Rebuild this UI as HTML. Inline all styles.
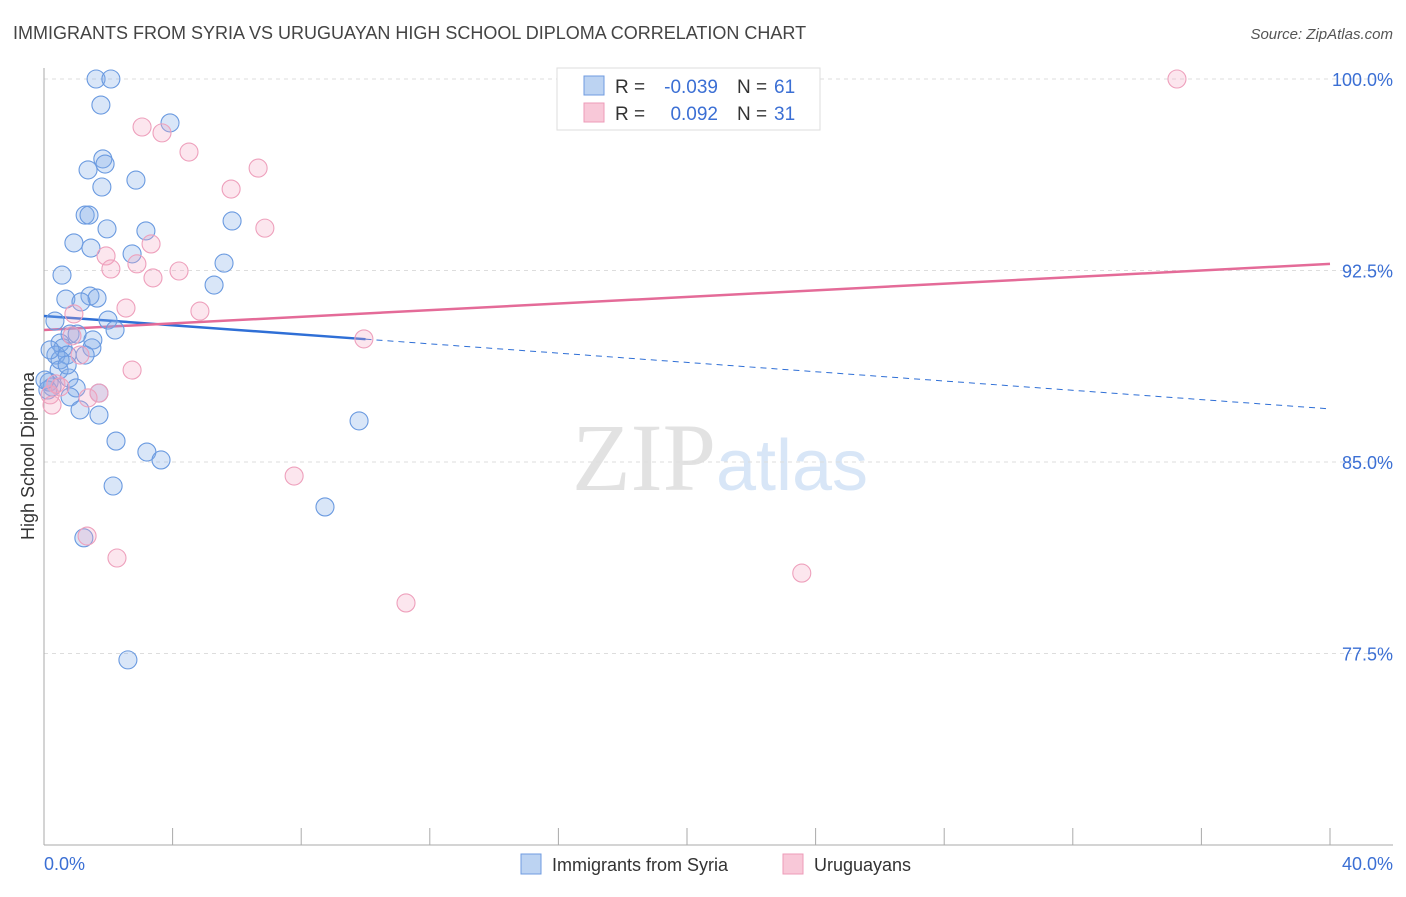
<!DOCTYPE html>
<html><head><meta charset="utf-8"><style>
body{margin:0;background:#fff;font-family:"Liberation Sans",sans-serif}
</style></head><body>
<svg id="chart" width="1406" height="892" xmlns="http://www.w3.org/2000/svg" font-family="Liberation Sans, sans-serif">
<text x="13" y="39" font-size="18" fill="#444">IMMIGRANTS FROM SYRIA VS URUGUAYAN HIGH SCHOOL DIPLOMA CORRELATION CHART</text>
<text x="1393" y="39" font-size="15" fill="#555" text-anchor="end" font-style="italic">Source: ZipAtlas.com</text>
<text x="720" y="490" font-size="96" text-anchor="middle" fill="#e2e2e2" font-family="Liberation Serif, serif">ZIP<tspan fill="#d8e6f7" font-family="Liberation Sans, sans-serif" font-size="72">atlas</tspan></text>
<text transform="translate(34,456) rotate(-90)" font-size="18" fill="#333" text-anchor="middle">High School Diploma</text>
<g id="grid"></g><g id="axes"></g><g id="trends"></g><g id="points"></g>
<g>
<rect x="557" y="68" width="263" height="62" fill="#fff" stroke="#ddd"/>
<rect x="584" y="76" width="20" height="19" fill="#bcd3f2" stroke="#6f9be0"/>
<rect x="584" y="103" width="20" height="19" fill="#f8c8d8" stroke="#ee9bb8"/>
<text x="615" y="93" font-size="19" fill="#333">R =</text>
<text x="718" y="93" font-size="19" fill="#3b6fd4" text-anchor="end">-0.039</text>
<text x="737" y="93" font-size="19" fill="#333">N =</text>
<text x="774" y="93" font-size="19" fill="#3b6fd4">61</text>
<text x="615" y="120" font-size="19" fill="#333">R =</text>
<text x="718" y="120" font-size="19" fill="#3b6fd4" text-anchor="end">0.092</text>
<text x="737" y="120" font-size="19" fill="#333">N =</text>
<text x="774" y="120" font-size="19" fill="#3b6fd4">31</text>
</g>
<g>
<rect x="521" y="854" width="20" height="20" fill="#bcd3f2" stroke="#6f9be0"/>
<text x="552" y="871" font-size="18" fill="#333">Immigrants from Syria</text>
<rect x="783" y="854" width="20" height="20" fill="#f8c8d8" stroke="#ee9bb8"/>
<text x="814" y="871" font-size="18" fill="#333">Uruguayans</text>
</g>
</svg>
<script>
const yTicks=[100,92.5,85,77.5];
const yTickLabels=["100.0%","92.5%","85.0%","77.5%"];
const blueX=[1.62,2.08,1.77,3.92,1.83,1.37,1.90,1.80,2.86,1.28,1.40,1.96,3.17,5.85,0.93,1.46,2.74,5.60,0.56,5.29,1.43,1.65,0.68,1.15,1.99,2.21,0.34,0.81,1.03,0.50,0.59,1.52,1.49,0.37,0.72,1.28,0.47,0.78,1.00,0.16,0.25,0.81,1.71,1.12,1.71,2.24,3.20,3.64,9.80,2.15,8.74,1.24,2.61,0.12,0.50,0.19,0.03,0.72];
const blueY=[100,100,98.98,98.28,96.87,96.44,96.67,95.77,96.04,94.67,94.67,94.13,94.05,94.44,93.58,93.38,93.15,92.79,92.32,91.93,91.50,91.42,91.38,91.27,90.56,90.17,90.52,90.01,90.01,89.66,89.47,89.78,89.47,89.19,89.19,89.19,88.60,88.29,87.90,88.13,87.94,87.55,87.70,87.04,86.84,85.82,85.39,85.08,86.61,84.06,83.24,82.03,77.25,87.82,89.00,89.39,88.21,88.80];
const pinkX=[35.24,3.05,3.67,4.51,6.66,5.82,6.87,3.33,1.93,2.08,2.89,4.20,3.39,2.55,4.85,0.93,0.87,9.95,1.12,2.74,1.71,1.37,0.37,0.19,0.25,7.78,1.34,2.27,23.57,11.26,0.50];
const pinkY=[100,98.12,97.89,97.14,96.51,95.69,94.16,93.54,93.07,92.56,92.76,92.48,92.21,91.03,90.91,90.80,89.94,89.82,89.19,88.60,87.70,87.51,88.06,87.63,87.23,84.45,82.10,81.24,80.65,79.48,87.94];
const blueTrend=[90.72,87.08];
const pinkTrend=[90.17,92.76];
const NS='http://www.w3.org/2000/svg';
const sx=v=>44+v/40*1286;
const sy=v=>79+(100-v)/7.5*191.5;
function mk(tag,attrs,parent){const e=document.createElementNS(NS,tag);for(const k in attrs)e.setAttribute(k,attrs[k]);document.getElementById(parent).appendChild(e);return e;}
yTicks.forEach((t,i)=>{
 const l=mk('line',{x1:44,x2:1393,y1:sy(t),y2:sy(t),stroke:'#ddd','stroke-dasharray':'4,4'},'grid');
 
 
 const tx=mk('text',{x:1393,y:sy(t)+7,'font-size':18,fill:'#3b6fd4','text-anchor':'end'},'grid');
 tx.textContent=yTickLabels[i];
 
 
});
const ax=mk('line',{x1:44,x2:44,y1:68,y2:845,stroke:'#aaa'},'axes');


const bx=mk('line',{x1:44,x2:1393,y1:845,y2:845,stroke:'#aaa'},'axes');


for(let i=1;i<=10;i++){const t=mk('line',{x1:sx(i*4),x2:sx(i*4),y1:828,y2:845,stroke:'#aaa'},'axes');
 
 }
[[0,'0.0%','start',44],[40,'40.0%','end',1393]].forEach(a=>{const t=mk('text',{x:a[3],y:870,'font-size':18,fill:'#3b6fd4','text-anchor':a[2]},'axes');t.textContent=a[1];
 
 });
function pts(X,Y,fill,stroke,name){X.forEach((x,i)=>{const c=mk('circle',{cx:sx(x),cy:sy(Y[i]),r:9,fill:fill,stroke:stroke,'stroke-width':1.1},'points');
 
 });}
pts(blueX,blueY,'rgba(130,172,232,0.3)','#6a9ae0','syria-point');
pts(pinkX,pinkY,'rgba(245,165,195,0.28)','#eea0bc','uruguayan-point');
const bt=(x)=>blueTrend[0]+(blueTrend[1]-blueTrend[0])*x/40;
const b1=mk('line',{x1:sx(0),y1:sy(bt(0)),x2:sx(10),y2:sy(bt(10)),stroke:'#2f6fd6','stroke-width':2.5},'trends');


const b2=mk('line',{x1:sx(10),y1:sy(bt(10)),x2:sx(40),y2:sy(bt(40)),stroke:'#2f6fd6','stroke-width':1,'stroke-dasharray':'6,5'},'trends');


const p1=mk('line',{x1:sx(0),y1:sy(pinkTrend[0]),x2:sx(40),y2:sy(pinkTrend[1]),stroke:'#e46b98','stroke-width':2.5},'trends');


</script>
</body></html>
